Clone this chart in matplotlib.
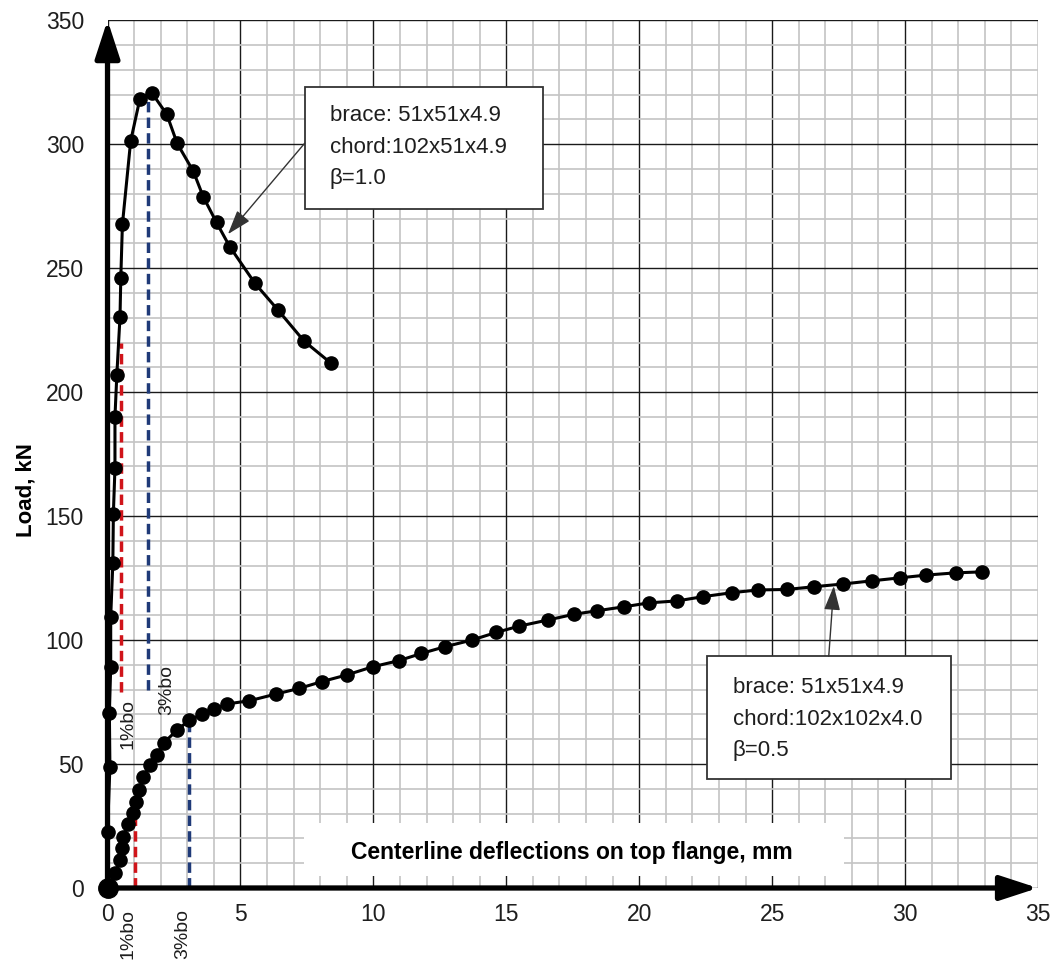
import matplotlib
matplotlib.use("Agg")
import matplotlib.pyplot as plt
from matplotlib import font_manager
from matplotlib.patches import Rectangle

# ---------------- data ----------------
# beta = 1.0 specimen (brace 51x51x4.9, chord 102x51x4.9)
defl_b10 = [0.0, 0.0, 0.09, 0.07, 0.12, 0.12, 0.2, 0.22, 0.28, 0.28, 0.35, 0.47, 0.5, 0.56,
            0.87, 1.22, 1.66, 2.23, 2.62, 3.23, 3.6, 4.1, 4.6, 5.55, 6.42, 7.39, 8.39]
load_b10 = [0.0, 22.7, 48.9, 70.5, 89.0, 109.3, 131.0, 151.0, 169.3, 190.0, 206.9, 230.4, 246.2, 267.6,
            301.2, 318.4, 320.8, 312.0, 300.3, 289.0, 278.8, 268.4, 258.6, 243.8, 233.0, 220.6, 211.8]

# beta = 0.5 specimen (brace 51x51x4.9, chord 102x102x4.0)
defl_b05 = [0.0, 0.28, 0.47, 0.53, 0.6, 0.78, 0.95, 1.07, 1.2, 1.35, 1.6, 1.85, 2.12, 2.62, 3.08,
            3.54, 4.0, 4.48, 5.33, 6.33, 7.21, 8.05, 8.99, 9.97, 10.96, 11.81, 12.69, 13.71, 14.63,
            15.48, 16.57, 17.55, 18.41, 19.42, 20.37, 21.44, 22.4, 23.49, 24.47, 25.56, 26.57,
            27.66, 28.77, 29.82, 30.8, 31.9, 32.9]
load_b05 = [0.0, 5.9, 11.3, 16.0, 20.7, 26.0, 30.4, 34.8, 39.5, 44.9, 49.6, 53.6, 58.6, 63.7, 67.7,
            70.0, 72.0, 74.2, 75.5, 78.2, 80.5, 83.2, 85.9, 89.2, 91.7, 94.6, 97.3, 100.0, 103.1,
            105.6, 108.1, 110.4, 111.8, 113.4, 115.0, 115.8, 117.5, 119.1, 120.2, 120.4, 121.5,
            122.6, 123.9, 125.1, 126.2, 127.1, 127.5]

# deformation limits (1% and 3% of bo)
limit_labels = ["1%bo", "3%bo"]
limits_b10 = [0.51, 1.53]          # bo = 51 mm
limits_b10_range = [(79, 220), (80, 318.5)]
limits_b05 = [1.02, 3.06]          # bo = 102 mm
limits_b05_top = [28, 66.5]
limit_colors = ["#d0141a", "#1f3a78"]

x_ticks = [0, 5, 10, 15, 20, 25, 30, 35]
y_ticks = [0, 50, 100, 150, 200, 250, 300, 350]

note_b10 = "brace: 51x51x4.9\nchord:102x51x4.9\nβ=1.0"
note_b05 = "brace: 51x51x4.9\nchord:102x102x4.0\nβ=0.5"
x_label = "Centerline deflections on top flange, mm"
y_label = "Load, kN"

# ---------------- fonts ----------------
avail = {f.name for f in font_manager.fontManager.ttflist}
base_font = "Liberation Sans" if "Liberation Sans" in avail else "DejaVu Sans"
narrow_font = "Liberation Sans Narrow" if "Liberation Sans Narrow" in avail else base_font
plt.rcParams["font.family"] = [base_font, "DejaVu Sans"]
txt_color = "#1e1e1e"

# ---------------- figure ----------------
fig = plt.figure(figsize=(10.51, 9.6), dpi=100)
ax = fig.add_axes([0.1023, 0.075, 0.8853, 0.904])
ax.set_xlim(0, 35)
ax.set_ylim(0, 350)

# grid
ax.set_xticks(x_ticks)
ax.set_yticks(y_ticks)
ax.set_xticks(range(0, 36), minor=True)
ax.set_yticks(range(0, 351, 10), minor=True)
ax.grid(which="minor", color="#c4c4c4", lw=1.2, zorder=0)
ax.grid(which="major", color="#1a1a1a", lw=1.0, zorder=0.5)
ax.set_axisbelow(True)
for s in ax.spines.values():
    s.set_visible(False)
ax.tick_params(which="both", length=0)
ax.tick_params(axis="x", pad=11, labelsize=16.5, labelcolor=txt_color)
ax.tick_params(axis="y", pad=17, labelsize=16.5, labelcolor=txt_color)

# white box behind x label
ax.add_patch(Rectangle((7.4, 4.8), 20.3, 21.4, facecolor="white", edgecolor="none", zorder=1))
ax.text(17.46, 14.5, x_label, ha="center", va="center", fontsize=16.5, fontweight="bold",
        family=[narrow_font, "DejaVu Sans"], color="black", zorder=2)

# y label
fig.text(0.025, 0.49, y_label, rotation=90, ha="center", va="center", fontsize=16,
         fontweight="bold", color="black")

# axes arrows
arrow_kw = dict(arrowstyle="-|>,head_length=2.3,head_width=0.75", lw=3.8, color="black",
                shrinkA=0, shrinkB=0, mutation_scale=10)
ax.annotate("", xy=(0, 1.0), xytext=(0, 0), xycoords="axes fraction",
            textcoords="axes fraction", arrowprops=arrow_kw, zorder=6, annotation_clip=False)
ax.annotate("", xy=(1.0, 0), xytext=(0, 0), xycoords="axes fraction",
            textcoords="axes fraction", arrowprops=arrow_kw, zorder=6, annotation_clip=False)

# deformation limit lines
for xv, (y0, y1), c in zip(limits_b10, limits_b10_range, limit_colors):
    ax.plot([xv, xv], [y0, y1], color=c, lw=2.5, dashes=(3.0, 1.5), zorder=3)
for xv, yt, c in zip(limits_b05, limits_b05_top, limit_colors):
    ax.plot([xv, xv], [0, yt], color=c, lw=2.5, dashes=(3.0, 1.5), zorder=3)

# curves
ax.plot(defl_b10, load_b10, "-o", color="black", lw=2.2, ms=9.5, zorder=5, clip_on=False)
ax.plot(defl_b05, load_b05, "-o", color="black", lw=2.2, ms=9.5, zorder=5, clip_on=False)
ax.plot(defl_b05[0], load_b05[0], "o", color="black", ms=14, zorder=7, clip_on=False)

# limit labels
upper_label_pos = [(0.77, 66), (2.23, 80)]
for (xp, yp), lab in zip(upper_label_pos, limit_labels):
    ax.text(xp, yp, lab, rotation=90, ha="center", va="center", fontsize=14, color=txt_color,
            zorder=4)
for xv, lab in zip(limits_b05, limit_labels):
    ax.text(xv - 0.25, -8.5, lab, rotation=90, ha="center", va="top", fontsize=14,
            color=txt_color, clip_on=False)

# annotation boxes
ax.add_patch(Rectangle((7.42, 273.8), 8.95, 49.2, facecolor="white", edgecolor="#333333",
                       lw=1.3, zorder=4))
ax.text(8.36, 298.8, note_b10, ha="left", va="center", fontsize=16, linespacing=1.65,
        color=txt_color, zorder=4.5)
ax.annotate("", xy=(4.53, 263.7), xytext=(7.42, 300.4),
            arrowprops=dict(arrowstyle="-|>,head_length=1.5,head_width=0.5", lw=1.0,
                            color="#333333", shrinkA=0, shrinkB=0, mutation_scale=10), zorder=4)

ax.add_patch(Rectangle((22.54, 43.9), 9.17, 49.6, facecolor="white", edgecolor="#333333",
                       lw=1.3, zorder=4))
ax.text(23.52, 68.1, note_b05, ha="left", va="center", fontsize=16, linespacing=1.65,
        color=txt_color, zorder=4.5)
ax.annotate("", xy=(27.32, 121.8), xytext=(27.13, 93.5),
            arrowprops=dict(arrowstyle="-|>,head_length=1.5,head_width=0.5", lw=1.0,
                            color="#333333", shrinkA=0, shrinkB=0, mutation_scale=10), zorder=4)

fig.savefig("out.png", dpi=100, facecolor="white")
